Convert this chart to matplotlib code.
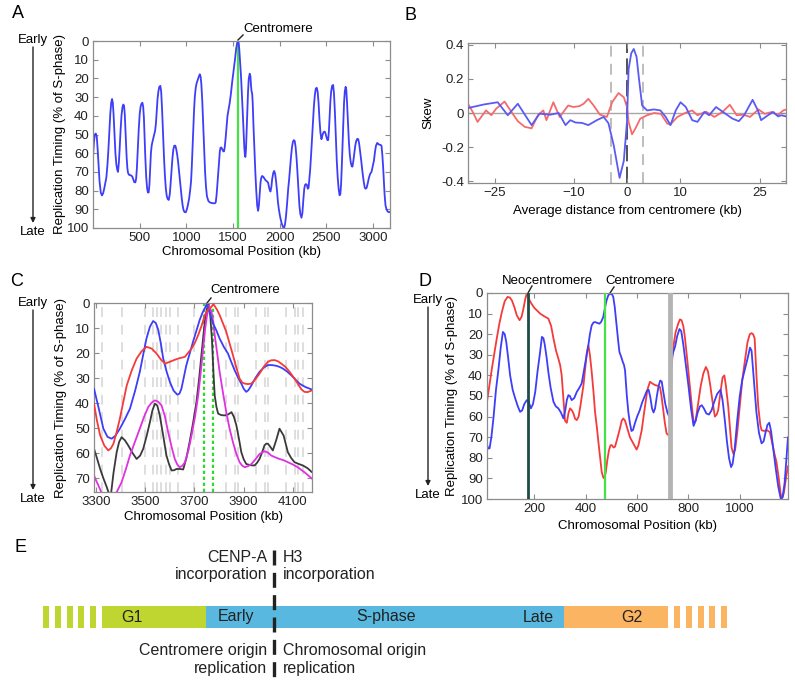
#!/usr/bin/env python3
"""Replication timing figure: panels A-D (curves) and E (cell cycle schematic)."""

import matplotlib
matplotlib.use("Agg")
import matplotlib.pyplot as plt

plt.rcParams["font.family"] = ["Liberation Sans", "DejaVu Sans"]

# ---------------- data ----------------
# A: replication timing along one chromosome (kb, % of S-phase)
a_kb = [0, 10, 20, 30, 40, 50, 60, 70, 83, 96, 108, 120, 132, 143, 155, 165, 175, 185, 195,
        204, 212, 220, 230, 240, 250, 260, 268, 277, 285, 295, 305, 315, 324, 332, 340, 350,
        360, 368, 375, 385, 393, 405, 421, 432, 442, 454, 462, 470, 480, 490, 500, 510, 520,
        529, 537, 545, 553, 560, 570, 580, 588, 596, 604, 612, 620, 628, 636, 646, 655, 665,
        674, 682, 691, 700, 710, 721, 730, 740, 750, 760, 770, 780, 790, 800, 811, 822, 830,
        840, 850, 860, 870, 882, 892, 902, 912, 920, 930, 940, 950, 960, 970, 980, 993, 1005,
        1015, 1030, 1042, 1050, 1058, 1066, 1074, 1082, 1090, 1100, 1110, 1120, 1130, 1143,
        1152, 1160, 1170, 1180, 1190, 1200, 1210, 1220, 1235, 1250, 1268, 1290, 1305, 1314,
        1322, 1330, 1340, 1350, 1358, 1366, 1375, 1385, 1395, 1403, 1410, 1420, 1430, 1440,
        1450, 1464, 1477, 1490, 1505, 1520, 1533, 1546, 1553, 1560, 1567, 1575, 1585, 1595,
        1605, 1613, 1620, 1627, 1632, 1638, 1645, 1652, 1660, 1668, 1678, 1686, 1692, 1698,
        1704, 1710, 1718, 1728, 1738, 1748, 1758, 1768, 1776, 1785, 1793, 1800, 1810, 1822,
        1835, 1848, 1862, 1875, 1888, 1900, 1910, 1918, 1930, 1940, 1950, 1960, 1970, 1980,
        1990, 2000, 2010, 2020, 2035, 2046, 2056, 2066, 2078, 2090, 2100, 2110, 2120, 2130,
        2140, 2150, 2160, 2170, 2180, 2190, 2200, 2210, 2220, 2232, 2242, 2252, 2262, 2270,
        2280, 2290, 2300, 2308, 2316, 2325, 2335, 2345, 2355, 2365, 2375, 2385, 2395, 2405,
        2415, 2425, 2435, 2446, 2456, 2466, 2475, 2482, 2490, 2500, 2510, 2518, 2526, 2534,
        2542, 2550, 2560, 2571, 2580, 2590, 2600, 2610, 2620, 2630, 2640, 2648, 2656, 2664,
        2672, 2680, 2688, 2696, 2705, 2712, 2720, 2730, 2740, 2750, 2760, 2770, 2778, 2788,
        2798, 2808, 2818, 2830, 2840, 2850, 2860, 2872, 2885, 2898, 2910, 2920, 2930, 2942,
        2955, 2968, 2982, 2995, 3008, 3020, 3030, 3043, 3055, 3065, 3078, 3089, 3098, 3106,
        3114, 3122, 3132, 3143, 3155, 3168, 3180]
a_rt = [62, 54, 50, 49.5, 51, 58, 67, 75, 81, 82.6, 81.5, 79, 76, 73, 66, 58, 48, 39, 33,
        31, 33, 39, 50, 60, 66, 69, 70, 65, 58, 48, 40, 35.5, 34, 34.5, 39, 50,
        62, 68, 70.5, 71.5, 71.7, 71.8, 72.5, 74, 75.5, 75.6, 73.5, 68, 57, 47, 39, 35, 33.5,
        33, 35, 41, 52, 62, 73, 79, 81, 81, 77, 68, 60, 56, 54, 52, 50, 48,
        44, 38, 31, 27, 24.5, 24, 27, 37, 50, 62, 72, 79, 83, 84.5, 85, 82, 77,
        70, 63, 58, 56, 56, 58, 61, 65, 69, 74, 79, 84, 88, 90.5, 91.5, 91.6, 90,
        88, 84, 79, 75, 67, 57, 46, 37, 30, 25, 22.5, 21, 19.5, 17.8,
        19, 23, 32, 45, 58, 70, 78, 83, 85.5, 86.3, 86.6, 86.8, 86.8, 86.3,
        83, 78, 71, 64, 59, 57, 57, 58, 59, 59, 57, 52, 46, 40,
        37, 33, 28, 22, 16, 10, 4, 0.5, 0, 1, 5, 11, 19, 29,
        40, 49, 57, 61.5, 62, 58, 48, 37, 27, 20, 17.5, 19, 24, 27,
        28, 33, 45, 58, 70, 80, 88, 90.8, 88, 82, 76, 73.5, 72.2, 72.5,
        73.5, 74.5, 75, 75.8, 79, 80.5, 78, 74, 70.5, 69.5, 71, 75, 80, 86,
        90, 93, 95.5, 97.5, 99.5, 100, 98, 94, 87, 79, 74, 68, 62, 57,
        54, 53, 53.5, 57, 63, 71, 80, 88, 92.5, 94.5, 92, 85, 79, 77,
        76.5, 77, 79, 78.5, 74, 69, 61, 52, 43, 35, 29, 25.5, 25, 27,
        33, 42, 49, 52.5, 50.5, 49, 48.5, 48.5, 49.5, 51.5, 53, 53, 48, 40,
        32, 27, 24, 23.5, 28, 38, 51, 64, 73, 79, 82.5, 82, 77, 67,
        55, 44, 33, 27, 24.5, 26, 33, 44, 54, 61, 65, 67, 67.2, 64,
        60, 56, 53.5, 52.3, 52.5, 55, 59, 64, 70, 75, 78.5, 79, 78.5, 76,
        73, 71, 70, 67, 64, 59, 56, 54.5, 55, 55.5, 55.5, 56, 61, 67,
        75, 82, 88, 90, 91.2, 91.5, 91.5]
a_centromere = 1555

# B: skew around centromeres (kb, skew)
b_blue_kb = [-30, -27, -24.4, -22.5, -20.6, -18, -16.5, -14.5, -12.9, -11.6, -10.7, -9.7, -8.5,
             -7.3, -5.7, -4.4, -3.5, -2.5, -1.4, -0.6, 0, 0.3, 0.8, 1.27, 1.8, 2.2, 2.85, 3.8,
             5.1, 6.3, 7.3, 8.2, 9.2, 10.1, 11.1, 12.3, 13.3, 14.6, 15.5, 16.8, 17.7, 19.9,
             21.1, 22.1, 23.7, 24.7, 25.3, 26.6, 27.6, 28.5, 29.1, 30]
b_blue = [0.029, 0.05, 0.063, -0.013, 0.054, -0.071, -0.004, -0.01, 0.0, -0.071, -0.042, -0.056,
          -0.058, -0.071, -0.042, -0.023, -0.06, -0.19, -0.38, -0.28, -0.05, 0.256, 0.35, 0.375,
          0.33, 0.217, 0.044, 0.015, 0.021, 0.015, -0.023, -0.071, 0.015, 0.063, 0.035, -0.042,
          -0.052, 0.006, -0.013, 0.035, 0.015, -0.033, -0.048, -0.013, 0.077, 0.015, -0.042,
          -0.013, 0.006, -0.02, -0.013, -0.02]
b_red_kb = [-30, -29.1, -28.2, -26.6, -25.6, -24.7, -23.1, -21.8, -20.6, -19.3, -18, -16.8,
            -15.8, -15.2, -13.9, -12.7, -11.1, -10.1, -9.0, -8.2, -7.3, -6.3, -5.1, -3.8, -2.8,
            -1.6, -0.6, 0, 0.3, 0.95, 1.6, 2.5, 3.8, 5.1, 6.4, 7.6, 8.2, 9.5, 11.1, 12.3, 13.3,
            14.9, 16.5, 18, 19.4, 20.7, 22.0, 23.2, 24.8, 26.0, 27.3, 28.4, 29.5, 30]
b_red = [0.054, 0.006, -0.052, 0.015, -0.013, 0.025, 0.067, 0.006, -0.048, -0.081, -0.09,
         -0.013, 0.015, -0.042, 0.063, -0.023, 0.044, 0.035, 0.04, 0.054, 0.083, 0.044, -0.01,
         -0.023, 0.063, 0.117, 0.092, 0.035, -0.052, -0.125, -0.09, -0.033, -0.013, 0.0,
         -0.005, -0.062, -0.067, -0.023, 0.002, 0.015, -0.013, 0.008, -0.023, 0.006, 0.048,
         -0.013, -0.01, -0.023, 0.021, -0.005, 0.006, -0.013, 0.015, 0.02]
b_window = [-3, 3]

# C: four strains around one centromere (kb, % of S-phase)
c_blue_kb = [3293, 3312, 3331, 3348, 3365, 3380, 3398, 3418, 3439, 3460, 3479, 3494, 3506,
             3520, 3533, 3544, 3554, 3564, 3574, 3588, 3601, 3616, 3631, 3640, 3648, 3658,
             3668, 3682, 3695, 3709, 3722, 3733, 3743, 3750, 3760, 3776, 3790, 3803, 3820,
             3837, 3850, 3864, 3878, 3891, 3901, 3911, 3920, 3932, 3948, 3965, 3982, 3999,
             4016, 4033, 4046, 4060, 4077, 4094, 4110, 4127, 4150, 4178]
c_blue = [34.2, 42, 50.2, 53.5, 54.2, 53, 50.2, 46.5, 42.2, 35, 27.5, 20, 14.2,
          9.5, 7.2, 8, 10.8, 16, 22.2, 27.5, 31.5, 35, 36.6, 36.2, 34.2, 29.5,
          24.8, 20, 15.5, 11, 6.8, 4, 2.1, 0.5, 3, 8.1, 11, 14.2, 17.5,
          20.2, 23.5, 26.9, 29.8, 32.2, 34.3, 35.5, 34.8, 32.9, 30, 27.5, 25.8, 24.8,
          24.8, 25.1, 25.5, 26.2, 27.4, 28.9, 30.5, 32.2, 33.5, 34.6]
c_red_kb = [3293, 3305, 3318, 3335, 3351, 3362, 3372, 3385, 3398, 3412, 3426, 3446, 3466,
            3486, 3506, 3527, 3547, 3564, 3581, 3601, 3618, 3635, 3662, 3689, 3703, 3716,
            3730, 3743, 3757, 3770, 3778, 3783, 3793, 3803, 3816, 3830, 3843, 3857, 3870,
            3884, 3895, 3905, 3918, 3932, 3948, 3965, 3982, 3999, 4012, 4026, 4040, 4053,
            4070, 4087, 4104, 4120, 4135, 4147, 4160, 4178]
c_red = [40.2, 47, 52.9, 57, 58.9, 58, 56.2, 51.5, 46.2, 39.5, 32.9, 27, 22.2,
         19.3, 17.5, 18.2, 20.2, 22.5, 24.2, 23.5, 22.8, 22.2, 21.5, 18.2, 15.8, 12.8,
         9, 4.8, 2.5, 1.5, 0.5, 1.2, 2.8, 4.8, 8, 11.5, 16, 20.8, 25.5,
         30.2, 31.8, 32.2, 32.4, 32.2, 30.5, 28.2, 25.5, 23.5, 22.9, 22.8, 23.3, 24.2,
         25.5, 27.5, 29.8, 32.2, 34.5, 35.5, 35.6, 34.9]
c_black_kb = [3293, 3305, 3318, 3331, 3345, 3360, 3372, 3385, 3395, 3405, 3418, 3432, 3450,
              3466, 3480, 3493, 3507, 3520, 3530, 3540, 3550, 3560, 3574, 3587, 3598, 3608,
              3618, 3628, 3642, 3655, 3668, 3681, 3695, 3709, 3720, 3729, 3737, 3743, 3751,
              3758, 3765, 3772, 3778, 3783, 3790, 3797, 3810, 3824, 3838, 3851, 3861, 3871,
              3881, 3891, 3901, 3911, 3928, 3945, 3955, 3965, 3975, 3985, 3992, 3999, 4009,
              4019, 4032, 4046, 4063, 4080, 4094, 4107, 4124, 4141, 4160, 4178]
c_black = [58.2, 62, 66.3, 70, 73.6, 78, 68, 59.6, 55.5, 53.6, 54.8, 56.9, 60,
           62.3, 61, 58.2, 53, 47.6, 43, 40.2, 41, 44.9, 53, 60.9, 64.5, 66.9,
           66.8, 66.3, 66.3, 66.5, 62, 55.6, 48, 39.5, 30, 20.8, 13, 7.5, 2.5,
           0, 5, 15, 28, 36.9, 41.5, 44.2, 44.8, 44.9, 44.5, 43.6, 45.5, 48.9,
           54, 59.6, 62.5, 64.3, 64.8, 64.9, 63.8, 62.3, 59.8, 56.9, 56.2, 56.2, 57.5,
           58.9, 55, 50.2, 53, 59.6, 62, 63.6, 64.3, 64.9, 66, 67.6]
c_magenta_kb = [3293, 3302, 3311, 3320, 3330, 3370, 3388, 3405, 3422, 3439, 3459, 3479, 3496,
                3513, 3527, 3540, 3553, 3567, 3580, 3594, 3608, 3621, 3631, 3641, 3652, 3662,
                3676, 3689, 3703, 3716, 3726, 3736, 3744, 3752, 3760, 3770, 3777, 3783, 3793,
                3803, 3816, 3830, 3843, 3857, 3870, 3884, 3895, 3905, 3918, 3932, 3948, 3965,
                3985, 4000, 4012, 4030, 4046, 4063, 4080, 4100, 4120, 4150, 4178]
c_magenta = [68.9, 71, 72.9, 75, 78, 78, 75, 71.6, 66.5, 60.9, 55.5, 50.2, 45.5,
             41.6, 39.8, 38.9, 39.4, 40.9, 45, 51.6, 57.5, 62.3, 64.5, 65.6, 65, 63.6,
             59, 52.9, 45.5, 36.9, 28, 18.2, 10.5, 4.8, 1, 3.5, 7.5, 12.8, 20,
             27.5, 35.5, 43.6, 50, 55.6, 60, 63.6, 65, 65.6, 65.2, 64.3, 62.5, 60.3,
             59.2, 59.8, 60.9, 61.7, 62.3, 62.8, 63.6, 64.5, 65.6, 67.8, 70.2]
c_origins = [3324, 3408, 3500, 3533, 3547, 3567, 3585, 3601, 3635, 3700, 3830, 3864, 3878,
             3952, 3986, 3999, 4073, 4107, 4120, 4141]
c_centromere = [3738, 3776]

# D: neocentromere strain (red) vs wild type (blue)
d_red_kb = [15, 24, 34, 44, 53, 63, 73, 84, 95, 104, 112, 122, 131, 142, 150, 157, 164, 170,
            176, 181, 190, 200, 212, 222, 238, 254, 265, 274, 284, 293, 300, 306, 312, 319,
            326, 333, 339, 346, 352, 358, 365, 372, 380, 391, 398, 404, 410, 416, 423, 430,
            436, 443, 449, 456, 462, 468, 472, 478, 484, 490, 496, 501, 508, 514, 522, 533,
            540, 546, 553, 560, 572, 585, 598, 605, 612, 618, 625, 632, 640, 650, 660, 670,
            680, 689, 695, 702, 708, 715, 722, 728, 734, 741, 750, 760, 767, 773, 780, 786,
            795, 806, 814, 821, 828, 838, 848, 858, 868, 876, 884, 893, 903, 910, 916, 925,
            933, 940, 946, 955, 962, 968, 975, 982, 990, 1000, 1010, 1020, 1030, 1039, 1046,
            1052, 1058, 1065, 1072, 1080, 1085, 1095, 1105, 1117, 1125, 1135, 1143, 1152,
            1160, 1166, 1172, 1180, 1188]
d_red = [52.8, 45, 36.7, 29, 22.1, 15, 9.2, 4, 1.9, 2.2, 3.6, 7, 10.8, 13.2, 11.5, 7.6, 3, 0.3,
         1.5, 3.6, 5.5, 7.3, 8.8, 10, 11.3, 12.4, 16, 22.1, 28, 31.8, 35, 39.9, 50, 62,
         63, 58, 56, 57, 58.5, 61, 61.7, 60, 54, 44.7, 36, 29, 25.4, 30, 38.3, 48,
         57.7, 65, 72.2, 80, 86.8, 89.5, 90, 87, 81, 76.5, 74, 73.8, 75, 74.6, 71, 65.8,
         62, 60.9, 62, 65, 70, 73, 76, 74, 70, 66.6, 60, 54, 47, 43.1, 44, 44.7,
         45, 45.6, 50, 57, 63, 68.2, 69, 68, 36, 26.2, 19, 14.9, 12.8, 13.2, 16, 21.3,
         32, 45.6, 56, 63.3, 62, 53.6, 45, 39.1, 35.9, 38, 43.9, 52, 60, 59, 56.9, 48,
         41, 40, 45, 55, 66, 75, 78, 76, 68, 55, 42, 33, 24, 20, 19.5,
         20, 22, 40, 55, 64, 66.6, 67, 66.5, 67.5, 72, 78, 82, 90,
         98, 99.5, 97, 90, 84]
d_blue_kb = [15, 20, 25, 32, 40, 50, 60, 68, 77, 84, 90, 97, 105, 115, 125, 135, 144, 152, 160,
             170, 178, 186, 194, 203, 212, 222, 229, 235, 240, 247, 254, 263, 274, 283, 293,
             303, 313, 320, 326, 332, 338, 345, 355, 365, 375, 384, 391, 397, 404, 410, 416,
             423, 430, 436, 444, 453, 460, 468, 475, 481, 488, 497, 503, 507, 513, 520, 526,
             531, 538, 544, 549, 553, 560, 566, 572, 578, 584, 592, 600, 610, 620, 630, 638,
             645, 652, 658, 664, 670, 677, 684, 690, 696, 702, 710, 718, 725, 732, 740, 748,
             756, 765, 772, 780, 790, 800, 810, 820, 828, 836, 845, 852, 860, 870, 880, 890,
             900, 912, 925, 933, 942, 950, 958, 966, 972, 980, 990, 1000, 1010, 1020, 1030,
             1040, 1046, 1055, 1065, 1075, 1085, 1093, 1100, 1108, 1115, 1122, 1130, 1140,
             1150, 1160, 1167, 1175, 1182, 1188]
d_blue = [73.8, 75.5, 75.4, 70, 60.9, 47, 36.7, 27, 18.9, 20, 23.7, 31, 39.9, 47, 51.2, 55,
          57.7, 57, 54, 52, 53, 56, 54, 48, 38, 28.6, 21.3, 22, 25, 31, 38.3, 46, 52.8, 55,
          56, 58, 60.9, 57, 52, 49.6, 50, 52, 51, 48, 46, 43.9, 39, 35.1, 30, 25.4, 20,
          15.7, 14.3, 14.1, 14.5, 14.9, 14, 11.6, 7, 3.6, 1, 0.3, 0.8, 1.9, 7, 15.7, 23,
          28.6, 31, 33.4, 35, 37.6, 50, 58, 63.3, 67, 66.5, 63, 60, 57, 53, 50, 47.5,
          47, 51, 56, 58, 56, 50, 45, 42.5, 43, 48, 54, 58, 60, 33, 29, 26,
          21, 17.5, 18.5, 25, 35, 45, 56, 64.5, 62, 58, 55, 54.5, 56, 58.5, 59, 57,
          53, 49, 47, 52, 62, 72, 80, 84.5, 83, 76, 62, 50, 42, 37, 32,
          26.5, 28, 42, 58, 68, 73, 72, 68, 64, 63, 67, 75, 85,
          94, 100, 99, 92, 80, 70]
d_neocentromere = 175
d_centromere = 474
d_gap = 730

# E: cell-cycle schematic (arbitrary time units)
e_phases = ["G1", "S-phase", "G2"]
e_starts = [101.5, 205.5, 563.5]
e_widths = [104, 358, 104]
e_colors = ["#bfd630", "#58b8df", "#fbb462"]
e_boundary = 274

# ---------------- layout helpers ----------------
W, H = 795, 687
fig = plt.figure(figsize=(W / 100, H / 100), dpi=100)

ov = fig.add_axes([0, 0, 1, 1], zorder=-1)
ov.set_xlim(0, W)
ov.set_ylim(H, 0)
ov.axis("off")


def box(l, t, r, b):
    return [l / W, 1 - b / H, (r - l) / W, (b - t) / H]


def style(ax):
    for s in ax.spines.values():
        s.set_color("#8c8c8c")
        s.set_linewidth(0.9)
    ax.tick_params(direction="in", length=3.5, width=0.8, color="#8c8c8c",
                   top=True, right=True, labelsize=9.5, pad=3, labelcolor="#222222")


def early_late(x, y0, y1):
    ov.text(x, y0, "Early", ha="center", va="center", fontsize=9.5)
    ov.text(x, y1, "Late", ha="center", va="center", fontsize=9.5)
    ov.annotate("", xy=(x, y1 - 9), xytext=(x, y0 + 7),
                arrowprops=dict(arrowstyle="-|>", color="#222222", lw=1.0,
                                mutation_scale=7, shrinkA=0, shrinkB=0))


def pointer(x0, y0, x1, y1):
    ov.plot([x0, x1], [y0, y1], color="#222222", lw=1.0)


BLUE = "#3d3dfa"
RED = "#f53a3a"
LIME = "#44e244"
RT_LABEL = "Replication Timing (% of S-phase)"
POS_LABEL = "Chromosomal Position (kb)"
LINE = dict(lw=1.3, solid_joinstyle="round", solid_capstyle="round")

# ---------------- panel A ----------------
ax = fig.add_axes(box(93, 41, 390, 228))
ax.axvline(a_centromere, color=LIME, lw=1.6, zorder=1)
ax.plot(a_kb, a_rt, color=BLUE, zorder=2, **LINE)
ax.set_xlim(0, 3180)
ax.set_ylim(100, 0)
ax.set_xticks([500, 1000, 1500, 2000, 2500, 3000])
ax.set_yticks(range(0, 101, 10))
style(ax)
ax.set_xlabel(POS_LABEL, fontsize=9.5)
ax.set_ylabel(RT_LABEL, fontsize=9.5)
ax.xaxis.set_label_coords(0.5, -0.095)
ax.yaxis.set_label_coords(-0.092, 0.5)
early_late(33, 40, 232)
ov.text(278, 29, "Centromere", ha="center", va="center", fontsize=9.5)
pointer(238, 40, 243, 35)
ov.text(12, 14, "A", fontsize=13, va="center")

# ---------------- panel B ----------------
ax = fig.add_axes(box(468, 43, 786, 183))
ax.axhline(0, color="#a8a8a8", lw=1.0, zorder=1)
for x in b_window:
    ax.axvline(x, color="#b8b8b8", lw=1.3, ls=(0, (6, 4)), zorder=1)
ax.axvline(0, color="#444444", lw=1.3, ls=(0, (9, 3)), zorder=1)
ax.plot(b_red_kb, b_red, color="#f56b6b", zorder=2, **LINE)
ax.plot(b_blue_kb, b_blue, color="#5a5af5", zorder=3, **LINE)
ax.set_xlim(-30, 30)
ax.set_ylim(-0.41, 0.41)
ax.set_xticks([-25, -10, 0, 10, 25])
ax.set_yticks([-0.4, -0.2, 0, 0.2, 0.4])
ax.set_yticklabels(["-0.4", "-0.2", "0", "0.2", "0.4"])
style(ax)
ax.set_xlabel("Average distance from centromere (kb)", fontsize=9.5)
ax.set_ylabel("Skew", fontsize=9.5)
ax.xaxis.set_label_coords(0.5, -0.16)
ax.yaxis.set_label_coords(-0.105, 0.5)
ov.text(405, 15, "B", fontsize=13, va="center")

# ---------------- panel C ----------------
ax = fig.add_axes(box(94, 303, 312, 492))
for x in c_origins:
    ax.axvline(x, color="#dedede", lw=1.4, ls=(0, (5, 4)), zorder=0)
for x in c_centromere:
    ax.axvline(x, color="#30d830", lw=1.6, ls=(0, (1.5, 1.2)), zorder=1)
ax.plot(c_black_kb, c_black, color="#3a3a3a", zorder=2, **LINE)
ax.plot(c_magenta_kb, c_magenta, color="#e030e0", zorder=2, **LINE)
ax.plot(c_blue_kb, c_blue, color=BLUE, zorder=3, **LINE)
ax.plot(c_red_kb, c_red, color=RED, zorder=3, **LINE)
ax.set_xlim(3293, 4178)
ax.set_ylim(75.5, 0)
ax.set_xticks([3300, 3500, 3700, 3900, 4100])
ax.set_yticks(range(0, 71, 10))
style(ax)
ax.set_xlabel(POS_LABEL, fontsize=9.5)
ax.set_ylabel(RT_LABEL, fontsize=9.5)
ax.xaxis.set_label_coords(0.5, -0.10)
ax.yaxis.set_label_coords(-0.125, 0.5)
early_late(33, 303, 499)
ov.text(245, 290, "Centromere", ha="center", va="center", fontsize=9.5)
pointer(207, 303, 211, 298)
ov.text(10, 281, "C", fontsize=13, va="center")

# ---------------- panel D ----------------
ax = fig.add_axes(box(487, 293, 788, 499))
ax.plot(d_red_kb, d_red, color=RED, zorder=2, **LINE)
ax.plot(d_blue_kb, d_blue, color=BLUE, zorder=2, **LINE)
ax.axvline(d_neocentromere, color="#1d4d44", lw=2.0, zorder=3)
ax.axvline(d_centromere, color=LIME, lw=1.6, zorder=3)
ax.axvline(d_gap, color="#b4b4b4", lw=3.5, zorder=3)
ax.set_xlim(15, 1188)
ax.set_ylim(100, 0)
ax.set_xticks([200, 400, 600, 800, 1000])
ax.set_yticks(range(0, 101, 10))
style(ax)
ax.set_xlabel(POS_LABEL, fontsize=9.5)
ax.set_ylabel(RT_LABEL, fontsize=9.5)
ax.xaxis.set_label_coords(0.5, -0.10)
ax.yaxis.set_label_coords(-0.096, 0.5)
early_late(428, 300, 495)
ov.text(547, 281, "Neocentromere", ha="center", va="center", fontsize=9.5)
pointer(528, 293, 532, 286)
ov.text(640, 281, "Centromere", ha="center", va="center", fontsize=9.5)
pointer(610, 293, 614, 287)
ov.text(419, 281, "D", fontsize=13, va="center")

# ---------------- panel E ----------------
bar_top, bar_h = 606, 22
for s, w, c in zip(e_starts, e_widths, e_colors):
    ov.add_patch(plt.Rectangle((s, bar_top), w, bar_h, color=c, lw=0))
for i in range(5):
    ov.add_patch(plt.Rectangle((43 + i * 11.8, bar_top), 6, bar_h, color=e_colors[0], lw=0))
    ov.add_patch(plt.Rectangle((674 + i * 11.8, bar_top), 6, bar_h, color=e_colors[2], lw=0))
ym = bar_top + bar_h / 2
for txt, x in [("G1", 132), ("Early", 236), ("S-phase", 386), ("Late", 538), ("G2", 632)]:
    ov.text(x, ym, txt, ha="center", va="center", fontsize=11.5, color="#222222")
ov.plot([e_boundary, e_boundary], [550, 683], color="#222222", lw=2.4, ls=(0, (4.5, 2.2)))
tl, tr = e_boundary - 7, e_boundary + 9
for y, a, b in [(557, "CENP-A", "H3"), (575, "incorporation", "incorporation"),
                (650, "Centromere origin", "Chromosomal origin"),
                (669, "replication", "replication")]:
    ov.text(tl, y, a, ha="right", va="center", fontsize=11.5, color="#222222")
    ov.text(tr, y, b, ha="left", va="center", fontsize=11.5, color="#222222")
ov.text(14, 547, "E", fontsize=13, va="center")

fig.savefig("out.png", dpi=100)
